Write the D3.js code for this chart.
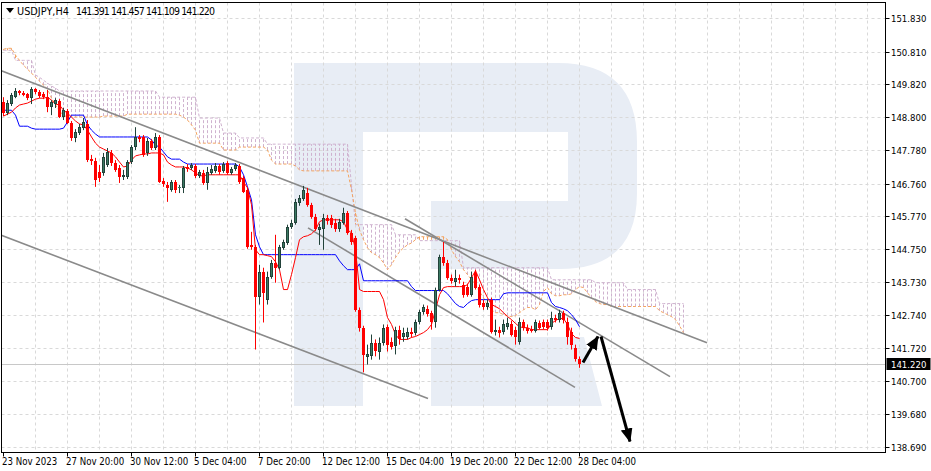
<!DOCTYPE html>
<html><head><meta charset="utf-8">
<script src="https://cdn.jsdelivr.net/npm/d3@7"></script>
<style>
body{margin:0;background:#fff;}
svg{display:block;}
text{font-family:"DejaVu Sans Condensed","DejaVu Sans",sans-serif;font-stretch:condensed;font-size:9.5px;fill:#000;}
text.xl{font-size:9.6px;}
text.sym{font-size:10.5px;}
</style>
</head><body>
<svg id="c" width="931" height="471"></svg>
<script>
// ---------------- DATA ----------------
const symbol = "USDJPY,H4";
const timeLabels = ["23 Nov 2023","27 Nov 20:00","30 Nov 12:00","5 Dec 04:00","7 Dec 20:00","12 Dec 12:00","15 Dec 04:00","19 Dec 20:00","22 Dec 12:00","28 Dec 04:00"];
const timeLabelBars = [0,16,32,48,64,80,96,112,128,144];
const priceTicks = [151.830,150.810,149.820,148.800,147.780,146.760,145.770,144.750,143.730,142.740,141.720,140.700,139.680,138.690];

const open = [149.26,148.92,149.20,149.41,149.60,149.54,149.50,149.38,149.66,149.57,
149.50,149.41,149.11,149.20,149.29,148.80,148.98,148.62,148.16,148.31,
148.46,148.59,147.51,147.45,147.12,147.09,147.33,147.70,147.39,147.24,
146.96,146.96,147.42,147.88,148.19,148.19,147.70,148.07,147.85,148.19,
146.84,146.72,146.57,146.81,146.63,146.63,147.27,147.24,147.30,147.00,
147.09,146.78,147.09,147.15,147.30,147.15,147.39,147.09,147.21,147.30,
146.93,146.57,144.88,144.82,143.29,144.06,143.20,143.90,144.33,144.18,
144.79,144.94,145.43,145.56,146.17,146.29,146.47,146.11,145.74,145.34,
145.37,145.71,145.71,145.56,145.37,145.56,145.86,145.25,145.10,142.89,
142.34,141.43,141.46,141.88,141.58,141.88,142.37,141.91,141.79,142.28,
142.04,142.07,142.22,142.19,142.53,142.83,142.92,142.80,142.53,143.51,
144.52,144.33,143.87,143.75,143.87,143.66,143.60,143.35,144.03,143.60,
143.11,142.96,143.20,142.22,142.28,142.22,142.37,142.44,142.28,141.91,
142.50,142.34,142.31,142.25,142.47,142.50,142.50,142.37,142.65,142.59,
142.80,142.53,142.22,141.73,141.391];
const high = [149.41,149.32,149.54,149.69,149.63,149.60,149.54,149.72,149.69,149.63,
149.57,149.63,149.32,149.38,149.35,149.08,149.05,148.68,148.43,148.59,
148.77,148.71,147.64,147.55,147.33,147.70,147.85,147.79,147.48,147.33,
147.18,147.48,147.94,148.49,148.25,148.25,148.16,148.13,148.31,148.25,
146.93,146.81,146.87,146.87,146.72,147.30,147.36,147.39,147.36,147.18,
147.18,147.27,147.33,147.39,147.36,147.42,147.45,147.27,147.39,147.36,
147.00,146.63,145.28,144.88,144.27,144.18,144.06,144.42,145.19,144.88,
145.04,145.50,145.65,146.29,146.41,146.69,146.63,146.17,145.83,145.53,
145.83,145.80,145.80,145.68,145.68,146.02,145.92,145.34,145.16,142.96,
142.40,141.82,142.13,141.98,142.04,142.44,142.44,142.04,142.37,142.40,
142.34,142.34,142.34,142.59,142.89,143.05,143.02,142.86,143.57,144.58,
144.97,144.42,143.97,144.12,143.97,143.75,143.69,144.06,144.12,143.66,
143.20,143.20,143.26,142.59,142.37,142.59,142.65,142.56,142.37,142.65,
142.59,142.44,142.40,142.59,142.56,142.59,142.59,142.83,142.74,142.89,
142.86,142.65,142.34,141.82,141.457];
const low = [148.83,148.86,149.14,149.38,149.47,149.44,149.32,149.20,149.50,149.38,
149.35,148.95,148.86,149.08,148.77,148.71,148.59,148.07,148.03,148.25,
148.40,147.42,147.33,146.66,146.81,147.00,147.27,147.30,147.12,146.78,
146.87,146.90,147.36,147.79,148.03,147.58,147.61,147.79,147.79,146.78,
146.66,146.20,146.51,146.47,146.47,146.47,147.12,147.18,146.93,146.93,
146.72,146.57,147.03,147.09,147.03,147.09,147.03,147.03,147.15,146.75,
146.47,144.76,144.73,141.67,143.05,142.50,143.05,143.84,143.72,144.12,
144.73,144.88,145.37,145.50,146.08,146.23,146.05,145.68,145.31,144.88,
144.73,145.50,145.40,145.28,145.28,145.50,145.19,144.88,142.83,142.22,
140.97,141.21,141.36,141.46,141.36,141.79,141.61,141.67,141.52,141.82,
141.91,141.98,142.04,142.10,142.44,142.74,142.68,142.28,142.34,143.45,
144.24,143.81,143.69,143.60,143.69,143.26,143.29,143.29,143.51,142.96,
142.89,142.89,142.16,142.10,142.04,142.13,142.28,142.07,141.82,141.82,
142.25,142.16,142.19,142.19,142.28,142.28,142.25,142.28,142.50,142.50,
142.47,141.82,141.67,141.30,141.109];
const close = [148.92,149.23,149.47,149.60,149.54,149.47,149.38,149.66,149.57,149.44,
149.41,149.11,149.26,149.32,148.80,149.01,148.62,148.16,148.34,148.49,
148.65,147.48,147.45,146.87,146.93,147.58,147.73,147.39,147.18,146.96,
147.03,147.42,147.88,148.19,148.13,147.64,148.07,147.85,148.19,146.81,
146.75,146.63,146.81,146.57,146.66,147.24,147.21,147.33,147.00,147.12,
146.78,147.12,147.21,147.30,147.12,147.36,147.09,147.21,147.33,146.81,
146.51,144.82,144.82,143.29,144.06,143.41,143.90,144.33,144.18,144.82,
144.97,145.43,145.56,146.20,146.32,146.57,146.11,145.74,145.37,145.43,
145.71,145.62,145.50,145.37,145.59,145.86,145.25,144.97,142.89,142.34,
141.49,141.52,141.88,141.61,141.88,142.34,141.82,141.76,142.28,141.98,
142.19,142.22,142.16,142.53,142.83,142.96,142.77,142.53,143.51,144.52,
144.33,143.87,143.78,143.87,143.81,143.35,143.35,143.90,143.57,143.05,
142.99,143.11,142.22,142.28,142.19,142.44,142.47,142.13,142.07,142.53,
142.34,142.25,142.25,142.50,142.34,142.37,142.34,142.65,142.59,142.80,
142.59,142.07,141.82,141.39,141.220];

// Ichimoku lines
const tenkan = [148.83,148.89,148.95,149.08,149.17,149.20,149.23,149.29,149.35,149.38,
149.38,149.41,149.32,149.20,149.17,149.01,148.92,148.80,148.68,148.59,
148.56,148.40,148.19,148.00,147.88,147.82,147.76,147.70,147.58,147.42,
147.27,147.30,147.48,147.61,147.64,147.67,147.67,147.70,147.70,147.70,
147.64,147.42,147.33,147.27,147.27,147.27,147.24,147.18,147.09,147.00,
147.00,147.03,147.03,147.03,147.03,147.03,147.03,147.03,147.03,147.03,
146.81,146.63,146.11,144.73,144.58,144.58,144.55,144.52,144.36,144.12,
143.51,143.51,143.97,144.49,145.04,145.13,145.16,145.22,145.34,145.59,
145.65,145.65,145.65,145.65,145.65,145.59,145.34,145.25,144.73,143.51,
143.45,143.45,143.45,143.45,143.45,143.20,142.65,142.44,142.13,141.98,
141.98,141.98,142.04,142.07,142.13,142.19,142.28,142.44,142.89,143.35,
143.57,143.60,143.60,143.60,143.60,143.60,143.66,143.87,144.09,143.81,
143.51,143.26,143.05,142.99,142.92,142.80,142.68,142.59,142.47,142.37,
142.34,142.34,142.28,142.28,142.28,142.28,142.28,142.47,142.56,142.62,
142.62,142.44,142.16,142.04,142.01];
const kijun = [149.01,149.01,149.01,148.86,148.52,148.52,148.52,148.46,148.43,148.43,
148.43,148.43,148.43,148.43,148.43,148.46,148.65,148.86,148.86,148.86,
148.86,148.56,148.40,148.28,148.19,148.19,148.19,148.19,148.19,148.19,
148.19,148.19,148.19,148.19,148.19,148.19,148.19,148.10,147.94,147.88,
147.73,147.58,147.51,147.51,147.51,147.42,147.36,147.36,147.36,147.36,
147.36,147.36,147.36,147.36,147.36,147.36,147.36,147.36,147.36,147.27,
147.03,146.66,146.26,145.19,144.82,144.58,144.58,144.58,144.58,144.58,
144.58,144.58,144.58,144.58,144.58,144.58,144.58,144.58,144.58,144.58,
144.58,144.58,144.58,144.58,144.39,144.24,144.12,144.12,144.12,144.30,
143.78,143.78,143.78,143.78,143.78,143.78,143.78,143.78,143.78,143.78,
143.78,143.78,143.60,143.48,143.48,143.48,143.48,143.48,143.48,143.48,
143.48,143.38,143.23,143.08,142.99,142.96,143.08,143.17,143.20,143.20,
143.20,143.20,143.20,143.20,143.20,143.38,143.41,143.41,143.41,143.41,
143.41,143.41,143.41,143.41,143.41,143.41,143.41,143.11,142.99,142.96,
142.92,142.86,142.74,142.59,142.37];
const spanA = [150.88,150.91,150.91,150.70,150.54,150.39,150.27,150.15,150.02,149.90,
149.78,149.66,149.38,149.17,148.98,148.86,148.80,148.80,148.80,148.80,
148.80,148.80,148.80,148.80,148.80,148.83,148.83,148.83,148.83,148.83,
148.83,148.89,148.89,148.89,148.89,148.89,148.89,148.89,148.89,148.89,
148.89,148.89,148.89,148.89,148.86,148.80,148.71,148.56,148.40,148.00,
148.00,148.00,148.00,148.00,148.00,147.79,147.79,147.79,147.79,147.88,
147.88,147.88,147.88,147.88,147.88,147.88,147.79,147.48,147.36,147.36,
147.36,147.36,147.36,147.30,147.18,147.15,147.15,147.15,147.15,147.15,
147.15,147.15,147.15,147.15,147.15,147.15,147.15,146.57,145.86,145.34,
145.04,144.79,144.64,144.58,144.49,144.33,144.12,144.27,144.49,144.67,
144.79,144.88,144.94,145.04,145.13,145.13,145.13,145.13,145.13,145.13,
145.13,145.04,144.73,144.52,144.36,144.12,143.97,143.81,143.66,143.45,
143.26,143.02,142.89,142.80,142.80,142.74,142.71,142.68,142.71,142.80,
142.89,142.96,142.96,142.89,143.05,143.45,143.57,143.38,143.32,143.32,
143.35,143.35,143.38,143.51,143.60,143.57,143.41,143.26,143.14,143.08,
143.05,143.05,142.99,142.99,142.99,142.99,142.99,142.99,142.99,142.99,
142.99,142.99,142.99,142.99,142.86,142.80,142.74,142.68,142.59,142.40,
142.19];
const spanB = [150.85,150.85,150.85,150.54,150.54,150.54,150.54,150.54,150.09,150.02,
149.93,149.84,149.75,149.69,149.60,149.60,149.60,149.60,149.60,149.60,
149.60,149.60,149.60,149.60,149.60,149.60,149.60,149.60,149.60,149.60,
149.60,149.60,149.60,149.60,149.60,149.60,149.60,149.60,149.60,149.41,
149.41,149.41,149.41,149.41,149.41,149.41,149.41,149.41,149.41,148.77,
148.77,148.77,148.77,148.77,148.77,148.31,148.31,148.31,148.31,148.16,
148.16,148.16,148.16,148.16,148.16,148.16,147.97,147.97,147.97,147.97,
147.97,147.97,147.97,147.97,147.97,147.97,147.97,147.97,147.97,147.97,
147.97,147.97,147.97,147.97,147.97,147.97,147.97,146.72,145.50,145.50,
145.50,145.50,145.50,145.50,145.50,145.50,145.50,145.50,145.19,145.19,
145.19,145.19,145.19,145.19,145.01,145.01,145.01,145.01,145.01,145.01,
145.01,145.01,145.01,145.01,145.01,144.18,144.18,144.18,144.18,144.18,
144.18,144.18,144.18,144.18,144.18,144.18,144.18,144.18,144.18,144.18,
144.18,144.18,144.18,144.18,144.18,144.18,144.18,143.81,143.81,143.81,
143.81,143.81,143.81,143.81,143.81,143.81,143.81,143.81,143.72,143.72,
143.72,143.72,143.72,143.72,143.72,143.72,143.51,143.51,143.51,143.51,
143.51,143.51,143.51,143.51,143.08,143.08,143.08,143.08,143.08,143.08,
143.08];

// drawn trend lines: [startBar, startPrice, endBar, endPrice]
const trendLines = [
  [-0.75,150.24,176.0,141.88],
  [-0.75,145.19,106.25,140.17],
  [100.5,145.68,166.75,140.84],
  [76.25,145.40,143.0,140.51]
];
// forecast arrows: [fromBar, fromPrice, toBar, toPrice]
const arrows = [
  [145.0,141.27,148.75,142.07],
  [149.5,142.07,156.75,138.85]
];

// ---------------- CHART ----------------
const svg = d3.select("#c");
const L=1.5, T=2.5, R=885.5, B=452.5;
const nBars = open.length;
const x = d3.scaleLinear().domain([0, nBars-1]).range([3, 579]);
const y = d3.scaleLinear().domain([138.69, 151.83]).range([446.7, 18.3]);
const px = v => Math.round(x(v));

svg.append("rect").attr("width",931).attr("height",471).attr("fill","#fff");
svg.append("defs").append("clipPath").attr("id","clip")
  .append("rect").attr("x",L).attr("y",T).attr("width",R-L).attr("height",B-T);

const plot = svg.append("g").attr("clip-path","url(#clip)");

// watermark logo (decoration)
plot.append("path")
  .attr("d","M294,63 H558 Q637,63 637,142 V193 Q637,269 560,269 H431 V201 H568 V132 H363 V406 H294 Z M431,337 H584 L602,406 H431 Z")
  .attr("fill","#e8edf5");

// grid
const gridV = d3.range(8, 220, 8);
plot.selectAll(".gv").data(gridV).join("line")
  .attr("x1",d=>px(d)+0.5).attr("x2",d=>px(d)+0.5).attr("y1",T).attr("y2",B)
  .attr("stroke","#d9d9d9").attr("stroke-dasharray","3,3");
plot.selectAll(".gh").data(priceTicks).join("line")
  .attr("x1",L).attr("x2",R).attr("y1",d=>Math.round(y(d))+0.5).attr("y2",d=>Math.round(y(d))+0.5)
  .attr("stroke","#d9d9d9").attr("stroke-dasharray","3,3");

// cloud hatch
const cloudIdx = d3.range(spanA.length);
plot.selectAll(".hatch").data(cloudIdx).join("line")
  .attr("x1",i=>px(i)+0.5).attr("x2",i=>px(i)+0.5)
  .attr("y1",i=>y(spanA[i])).attr("y2",i=>y(spanB[i]))
  .attr("stroke",i=>spanA[i]>=spanB[i]?"#f4a460":"#cfb2cf")
  .attr("stroke-dasharray","3,2");
const lineGen = arr => d3.line().x((d,i)=>px(i)+0.5).y(d=>y(d))(arr);
plot.append("path").attr("d",lineGen(spanB)).attr("fill","none")
  .attr("stroke","#cfb2cf").attr("stroke-dasharray","3,2");
plot.append("path").attr("d",lineGen(spanA)).attr("fill","none")
  .attr("stroke","#f4a460").attr("stroke-dasharray","3,2");

// current price line
const last = close[nBars-1];
plot.append("line").attr("x1",L).attr("x2",R)
  .attr("y1",Math.round(y(last))+0.5).attr("y2",Math.round(y(last))+0.5)
  .attr("stroke","#c8c8c8");

// trend lines
plot.selectAll(".tl").data(trendLines).join("line")
  .attr("x1",d=>x(d[0])).attr("y1",d=>y(d[1])).attr("x2",d=>x(d[2])).attr("y2",d=>y(d[3]))
  .attr("stroke","#8a8a8a").attr("stroke-width",1.6);

// kijun / tenkan
plot.append("path").attr("d",lineGen(kijun)).attr("fill","none").attr("stroke","#0000ff");
plot.append("path").attr("d",lineGen(tenkan)).attr("fill","none").attr("stroke","#ff0000");

// candles
const bars = d3.range(nBars);
const bullBody="#3b7a62", bullLine="#22423a", bear="#ff0000";
const cg = plot.append("g");
cg.selectAll(".wick").data(bars).join("line")
  .attr("x1",i=>px(i)+0.5).attr("x2",i=>px(i)+0.5)
  .attr("y1",i=>y(high[i])).attr("y2",i=>y(low[i]))
  .attr("stroke",i=>close[i]>=open[i]?bullLine:bear);
cg.selectAll(".body").data(bars).join("rect")
  .attr("x",i=>px(i)-1)
  .attr("y",i=>Math.round(y(Math.max(open[i],close[i]))))
  .attr("width",3)
  .attr("height",i=>Math.max(1,Math.round(y(Math.min(open[i],close[i])))-Math.round(y(Math.max(open[i],close[i])))))
  .attr("fill",i=>close[i]>=open[i]?bullBody:bear);
cg.selectAll(".bodyo").data(bars.filter(i=>close[i]>=open[i])).join("rect")
  .attr("x",i=>px(i)-1+0.5)
  .attr("y",i=>Math.round(y(close[i]))+0.5)
  .attr("width",2)
  .attr("height",i=>Math.max(0,Math.round(y(open[i]))-Math.round(y(close[i]))-1))
  .attr("fill","none").attr("stroke",bullLine);

// arrows
const defs = svg.select("defs");
defs.append("marker").attr("id","ah").attr("viewBox","0 0 14 12")
  .attr("refX",13).attr("refY",6).attr("markerWidth",14).attr("markerHeight",12)
  .attr("markerUnits","userSpaceOnUse").attr("orient","auto")
  .append("path").attr("d","M0,0 L14,6 L0,12 Z").attr("fill","#000");
plot.selectAll(".ar").data(arrows).join("line")
  .attr("x1",d=>x(d[0])).attr("y1",d=>y(d[1])).attr("x2",d=>x(d[2])).attr("y2",d=>y(d[3]))
  .attr("stroke","#000").attr("stroke-width",3).attr("marker-end","url(#ah)");

// frame
svg.append("rect").attr("x",L).attr("y",T).attr("width",R-L).attr("height",B-T)
  .attr("fill","none").attr("stroke","#000");

// y axis
svg.selectAll(".yt").data(priceTicks).join("line")
  .attr("x1",R).attr("x2",R+4).attr("y1",d=>Math.round(y(d))+0.5).attr("y2",d=>Math.round(y(d))+0.5)
  .attr("stroke","#000");
svg.selectAll(".yl").data(priceTicks).join("text")
  .attr("x",R+5.5).attr("y",d=>Math.round(y(d))+3.5)
  .text(d=>d.toFixed(3));

// current price box
svg.append("rect").attr("x",R+1).attr("y",Math.round(y(last))-6).attr("width",44).attr("height",12).attr("fill","#000");
svg.append("text").attr("x",R+5.5).attr("y",Math.round(y(last))+3.5).style("fill","#fff").text(last.toFixed(3));

// x axis
svg.selectAll(".xt").data(timeLabelBars).join("line")
  .attr("x1",d=>px(d)+0.5).attr("x2",d=>px(d)+0.5).attr("y1",B).attr("y2",B+4)
  .attr("stroke","#000");
svg.selectAll(".xl").data(timeLabelBars).join("text").attr("class","xl")
  .attr("x",d=>px(d)-1).attr("y",B+12)
  .text((d,i)=>timeLabels[i]);

// header
svg.append("path").attr("d","M6,8 L14,8 L10,13 Z").attr("fill","#000");
svg.append("text").attr("class","sym").attr("x",17).attr("y",14.5)
  .attr("textLength",52).attr("lengthAdjust","spacingAndGlyphs").text(symbol);
const hdrVals = [open[nBars-1],high[nBars-1],low[nBars-1],close[nBars-1]];
svg.append("text").attr("class","sym").attr("x",76).attr("y",14.5)
  .attr("textLength",139).attr("lengthAdjust","spacing")
  .text(hdrVals.map(v=>v.toFixed(3)).join(" "));
</script>
</body></html>
